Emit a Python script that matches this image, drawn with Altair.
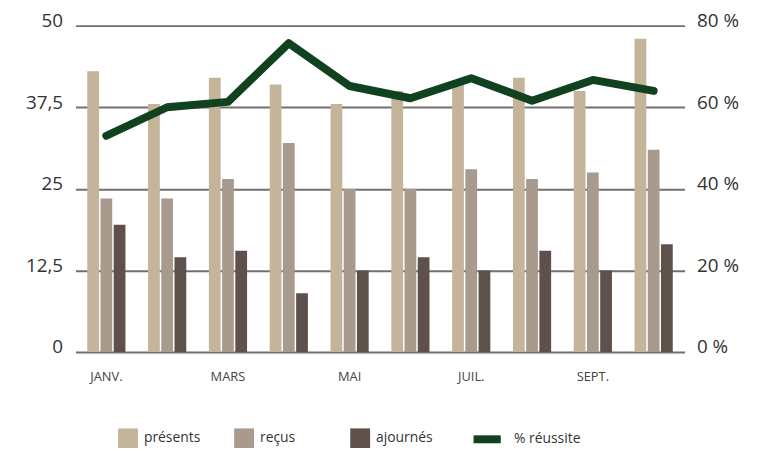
import altair as alt
import pandas as pd

mois = ["JANV.", "FÉVR.", "MARS", "AVR.", "MAI", "JUIN", "JUIL.", "AOÛT", "SEPT.", "OCT."]
presents = [43, 38, 42, 41, 38, 40, 41, 42, 40, 48]
recus = [23.5, 23.5, 26.5, 32, 25, 25, 28, 26.5, 27.5, 31]
ajournes = [19.5, 14.5, 15.5, 9, 12.5, 14.5, 12.5, 15.5, 12.5, 16.5]
reussite = [53, 60, 61.3, 75.7, 65.2, 62.2, 67.1, 61.6, 66.7, 64]

series = ["présents", "reçus", "ajournés"]
colors = ["#c4b49a", "#a89a8c", "#5e504b"]
line_color = "#10421f"
x_labels = ["JANV.", "MARS", "MAI", "JUIL.", "SEPT."]
left_ticks = [0, 12.5, 25, 37.5, 50]
right_ticks = [0, 20, 40, 60, 80]

rows = []
for i, m in enumerate(mois):
    for s, vals in zip(series, [presents, recus, ajournes]):
        rows.append({"mois": m, "serie": s, "valeur": vals[i]})
bars_df = pd.DataFrame(rows)
line_df = pd.DataFrame({"mois": mois, "pct": reussite, "serie": ["% réussite"] * len(mois)})

FONT = "Open Sans"

x_enc = alt.X(
    "mois:N",
    sort=mois,
    scale=alt.Scale(paddingInner=0.372, paddingOuter=0.194),
    axis=alt.Axis(
        title=None, values=x_labels, labelAngle=0, ticks=False, domain=False,
        labelFontSize=13, labelColor="#444444", labelPadding=19, labelFont=FONT,
    ),
)

bars = alt.Chart(bars_df).mark_bar().encode(
    x=x_enc,
    xOffset=alt.XOffset("serie:N", sort=series,
                        scale=alt.Scale(domain=series, paddingInner=0.11, paddingOuter=0)),
    y=alt.Y(
        "valeur:Q",
        scale=alt.Scale(domain=[0, 50], nice=False),
        axis=alt.Axis(
            title=None, values=left_ticks, orient="left", ticks=False, domain=False,
            labelExpr="replace(toString(datum.value), '.', ',')",
            labelFontSize=19, labelColor="#333333", labelPadding=13, labelFont=FONT,
            labelBaseline="alphabetic", labelOffset=1,
            grid=True, gridColor="#707070", gridWidth=2,
        ),
    ),
    color=alt.Color(
        "serie:N",
        scale=alt.Scale(domain=series, range=colors),
        legend=alt.Legend(
            title=None, orient="none", legendX=43, legendY=406, direction="horizontal",
            columns=3, gridAlign="all", columnPadding=33, symbolType="square",
            symbolSize=400, symbolStrokeWidth=0, labelOffset=6, labelFontSize=14,
            labelColor="#333333", labelFont=FONT,
        ),
    ),
)

line = alt.Chart(line_df).mark_line(strokeWidth=8, strokeCap="round", strokeJoin="round").encode(
    x=alt.X("mois:N", sort=mois),
    y=alt.Y(
        "pct:Q",
        scale=alt.Scale(domain=[0, 80], nice=False),
        axis=alt.Axis(
            title=None, values=right_ticks, orient="right", ticks=False, domain=False,
            labelExpr="datum.value + ' %'", grid=False,
            labelFontSize=19, labelColor="#333333", labelPadding=12, labelFont=FONT,
            labelBaseline="alphabetic", labelOffset=1,
        ),
    ),
    stroke=alt.Stroke(
        "serie:N",
        scale=alt.Scale(domain=["% réussite"], range=[line_color]),
        legend=alt.Legend(
            title=None, orient="none", legendX=397, legendY=399, symbolType="stroke",
            symbolSize=750, symbolStrokeWidth=8, labelOffset=9, labelFontSize=14,
            labelColor="#333333", labelFont=FONT,
        ),
    ),
)

chart = (
    alt.layer(bars, line)
    .resolve_scale(y="independent", color="independent")
    .properties(
        width=614, height=329,
        autosize=alt.AutoSizeParams(type="none"),
        padding={"left": 68, "top": 16, "right": 70, "bottom": 95},
    )
    .configure_view(stroke=None)
)

chart.save("out.html", embed_options={"renderer": "svg", "actions": False})
